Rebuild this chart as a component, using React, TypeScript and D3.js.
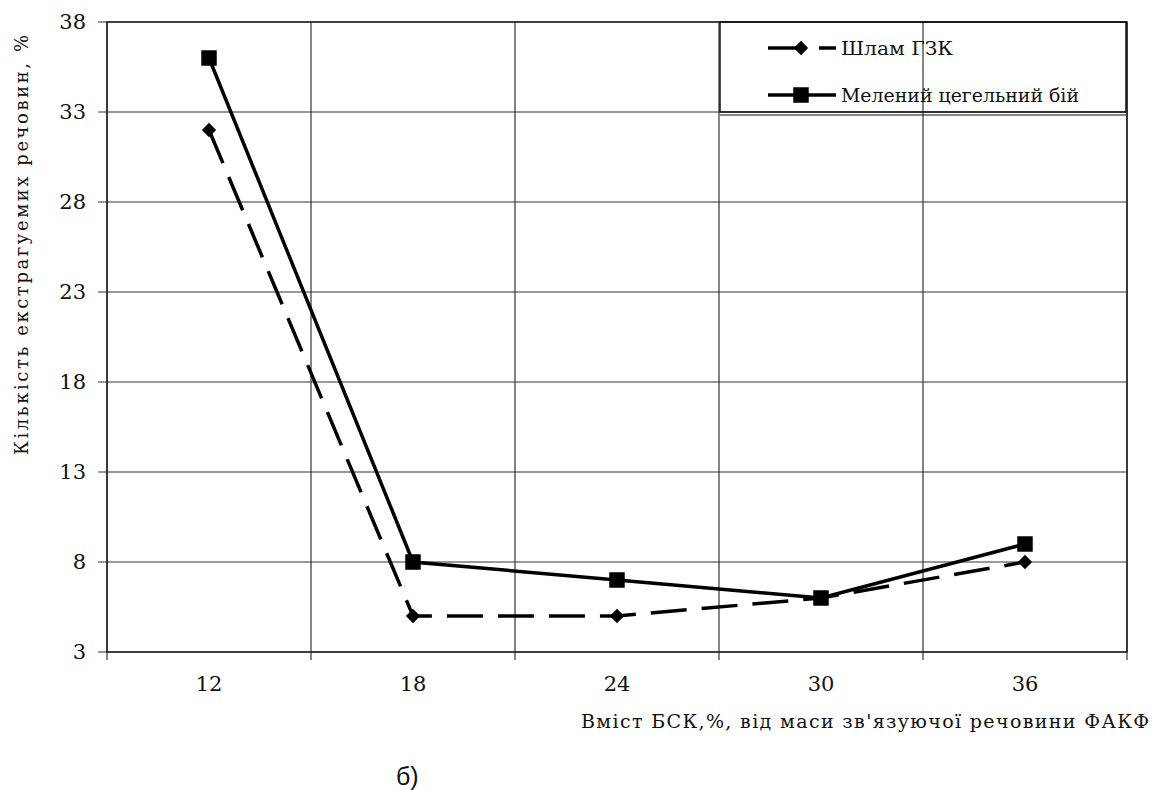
import { useEffect, useRef } from "react";
import * as d3 from "d3";

const categories = ["12", "18", "24", "30", "36"];
const shlamValues = [32, 5, 5, 6, 8];
const tsehlaValues = [36, 8, 7, 6, 9];
const yTicks = [3, 8, 13, 18, 23, 28, 33, 38];
const seriesNames = ["Шлам ГЗК", "Мелений цегельний бій"];

const WIDTH = 1167;
const HEIGHT = 790;
const PLOT = { left: 107, right: 1127, top: 22, bottom: 652 };
const SERIF = '"DejaVu Serif", "Liberation Serif", "Noto Serif", serif';
const DASH = "36 15";

const App = () => {
  const svgRef = useRef<SVGSVGElement>(null);

  useEffect(() => {
    const svg = d3.select(svgRef.current);
    svg.selectAll("*").remove();

    const x = d3.scaleBand().domain(categories).range([PLOT.left, PLOT.right]).padding(0);
    const y = d3.scaleLinear().domain([3, 38]).range([PLOT.bottom, PLOT.top]);
    const cx = (c: string) => (x(c) as number) + x.bandwidth() / 2;

    const chart = svg.append("g");

    // horizontal grid + y ticks
    chart
      .selectAll(".hgrid")
      .data(yTicks)
      .enter()
      .append("line")
      .attr("x1", PLOT.left - 9)
      .attr("x2", PLOT.right)
      .attr("y1", (d) => y(d))
      .attr("y2", (d) => y(d))
      .attr("stroke", "#333")
      .attr("stroke-width", 1.2);

    // vertical grid at band edges
    const edges = [...categories.map((c) => x(c) as number), PLOT.right];
    chart
      .selectAll(".vgrid")
      .data(edges)
      .enter()
      .append("line")
      .attr("x1", (d) => d)
      .attr("x2", (d) => d)
      .attr("y1", PLOT.top)
      .attr("y2", PLOT.bottom + 8)
      .attr("stroke", "#333")
      .attr("stroke-width", 1.2);

    // y labels
    chart
      .selectAll(".ylab")
      .data(yTicks)
      .enter()
      .append("text")
      .attr("x", 86)
      .attr("y", (d) => y(d) + 7)
      .attr("text-anchor", "end")
      .style("font-family", SERIF)
      .style("font-size", "21px")
      .attr("fill", "#111")
      .text((d) => d);

    // x labels
    chart
      .selectAll(".xlab")
      .data(categories)
      .enter()
      .append("text")
      .attr("x", (d) => cx(d))
      .attr("y", 691)
      .attr("text-anchor", "middle")
      .style("font-family", SERIF)
      .style("font-size", "21px")
      .attr("fill", "#111")
      .text((d) => d);

    // axis titles
    chart
      .append("text")
      .attr("transform", "translate(28, 245) rotate(-90)")
      .attr("text-anchor", "middle")
      .attr("textLength", 420)
      .attr("lengthAdjust", "spacing")
      .style("font-family", SERIF)
      .style("font-size", "18px")
      .attr("fill", "#111")
      .text("Кількість  екстрагуемих  речовин, %");

    chart
      .append("text")
      .attr("x", 581)
      .attr("y", 728)
      .attr("textLength", 568)
      .attr("lengthAdjust", "spacing")
      .style("font-family", SERIF)
      .style("font-size", "19px")
      .attr("fill", "#111")
      .text("Вміст БСК,%, від маси зв'язуючої речовини ФАКФ");

    chart
      .append("text")
      .attr("x", 396)
      .attr("y", 785)
      .style("font-family", '"Liberation Sans", Arial, sans-serif')
      .style("font-size", "25px")
      .attr("fill", "#111")
      .text("б)");

    const line = d3
      .line<number>()
      .x((_, i) => cx(categories[i]))
      .y((d) => y(d));

    // series lines
    chart
      .append("path")
      .attr("d", line(shlamValues))
      .attr("fill", "none")
      .attr("stroke", "#000")
      .attr("stroke-width", 3.5)
      .attr("stroke-dasharray", DASH);

    chart
      .append("path")
      .attr("d", line(tsehlaValues))
      .attr("fill", "none")
      .attr("stroke", "#000")
      .attr("stroke-width", 3.5);

    const diamond = d3.symbol().type(d3.symbolDiamond2).size(130);
    const square = d3.symbol().type(d3.symbolSquare).size(240);

    chart
      .selectAll(".dia")
      .data(shlamValues)
      .enter()
      .append("path")
      .attr("d", diamond())
      .attr("transform", (d, i) => `translate(${cx(categories[i])},${y(d)})`)
      .attr("fill", "#000");

    chart
      .selectAll(".sq")
      .data(tsehlaValues)
      .enter()
      .append("path")
      .attr("d", square())
      .attr("transform", (d, i) => `translate(${cx(categories[i])},${y(d)})`)
      .attr("fill", "#000");

    // plot border
    chart
      .append("rect")
      .attr("x", PLOT.left)
      .attr("y", PLOT.top)
      .attr("width", PLOT.right - PLOT.left)
      .attr("height", PLOT.bottom - PLOT.top)
      .attr("fill", "none")
      .attr("stroke", "#222")
      .attr("stroke-width", 1.5);

    // legend
    const legend = chart.append("g");
    legend
      .append("rect")
      .attr("x", 720)
      .attr("y", 22)
      .attr("width", 406)
      .attr("height", 90)
      .attr("fill", "none")
      .attr("stroke", "#111")
      .attr("stroke-width", 1.5);
    legend
      .append("line")
      .attr("x1", 720)
      .attr("x2", 1126)
      .attr("y1", 115)
      .attr("y2", 115)
      .attr("stroke", "#111")
      .attr("stroke-width", 1.2);

    const rows = [48, 95];
    legend
      .append("line")
      .attr("x1", 768)
      .attr("x2", 836)
      .attr("y1", rows[0])
      .attr("y2", rows[0])
      .attr("stroke", "#000")
      .attr("stroke-width", 3.5)
      .attr("stroke-dasharray", DASH);
    legend
      .append("path")
      .attr("d", diamond())
      .attr("transform", `translate(801,${rows[0]})`)
      .attr("fill", "#000");
    legend
      .append("line")
      .attr("x1", 768)
      .attr("x2", 836)
      .attr("y1", rows[1])
      .attr("y2", rows[1])
      .attr("stroke", "#000")
      .attr("stroke-width", 3.5);
    legend
      .append("path")
      .attr("d", square())
      .attr("transform", `translate(801,${rows[1]})`)
      .attr("fill", "#000");

    legend
      .selectAll(".ltext")
      .data(seriesNames)
      .enter()
      .append("text")
      .attr("x", 841)
      .attr("y", (_, i) => rows[i] + 7)
      .attr("textLength", (_, i) => (i === 0 ? 112 : 238))
      .attr("lengthAdjust", "spacingAndGlyphs")
      .style("font-family", SERIF)
      .style("font-size", "19px")
      .attr("fill", "#111")
      .text((d) => d);
  }, []);

  return (
    <svg
      ref={svgRef}
      width={WIDTH}
      height={HEIGHT}
      style={{ position: "absolute", left: 0, top: 0, background: "#fff" }}
    />
  );
};

export default App;
